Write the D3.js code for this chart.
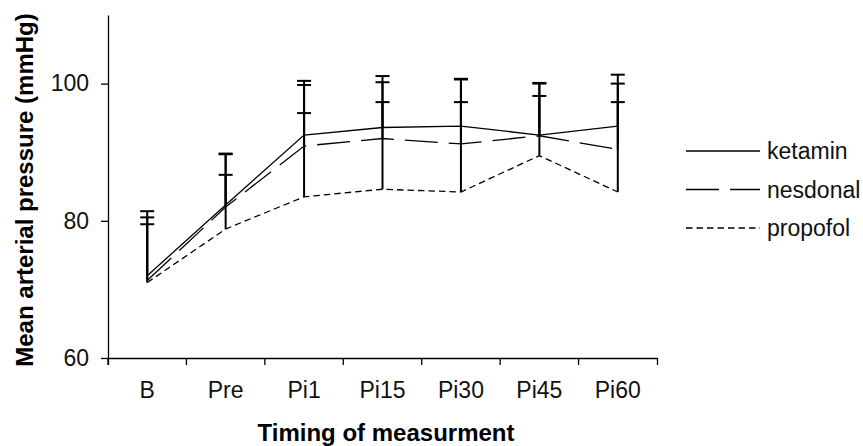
<!DOCTYPE html>
<html>
<head>
<meta charset="utf-8">
<script src="https://cdn.jsdelivr.net/npm/d3@7"></script>
<style>
  body { margin: 0; background: #fff; }
  text { font-family: "Liberation Sans", Arial, sans-serif; }
</style>
</head>
<body>
<script>
const categories = ['B', 'Pre', 'Pi1', 'Pi15', 'Pi30', 'Pi45', 'Pi60']
const yTicks = [60, 80, 100]

// means and upward SD per group
const ketaminMean = [72.0, 82.3, 92.5, 93.6, 93.8, 92.5, 93.8]
const ketaminSd = [9.4, 7.5, 7.9, 7.5, 6.9, 7.6, 7.5]
const nesdonalMean = [71.3, 82.0, 90.9, 92.0, 91.2, 92.4, 90.4]
const nesdonalSd = [9.2, 4.7, 4.8, 5.3, 6.1, 5.8, 6.9]
const propofolMean = [71.0, 78.8, 83.5, 84.6, 84.2, 89.5, 84.2]
const propofolSd = [8.5, 10.9, 16.3, 15.6, 16.4, 10.5, 15.8]

const series = [
    { name: 'ketamin', mean: ketaminMean, sd: ketaminSd, dash: null },
    { name: 'nesdonal', mean: nesdonalMean, sd: nesdonalSd, dash: '33,11' },
    { name: 'propofol', mean: propofolMean, sd: propofolSd, dash: '6.5,4' }
]

const width = 863
const height = 446
const plotLeft = 108, plotRight = 657, plotTop = 15, plotBottom = 358

const svg = d3.select('body').append('svg')
    .attr('width', width)
    .attr('height', height)

const x = d3.scaleBand().domain(categories).range([plotLeft, plotRight])
const y = d3.scaleLinear().domain([60, 110]).range([plotBottom, plotTop])
const cx = d => x(d) + x.bandwidth() / 2

// y axis
const gy = svg.append('g')
    .attr('transform', `translate(${plotLeft},0)`)
    .call(d3.axisLeft(y).tickValues(yTicks).tickSize(7).tickSizeOuter(0).tickPadding(12))
gy.selectAll('text').style('font-size', '23px').attr('fill', '#111')

// x axis, ticks at band edges
const gx = svg.append('g')
    .attr('transform', `translate(0,${plotBottom})`)
    .call(d3.axisBottom(x).tickSize(0).tickSizeOuter(7).tickPadding(24))
gx.selectAll('text').style('font-size', '23px').attr('fill', '#111')
gx.selectAll('.tick').append('line')
    .attr('x1', -x.bandwidth() / 2).attr('x2', -x.bandwidth() / 2)
    .attr('y1', 0).attr('y2', 7)

svg.selectAll('.domain, .tick line').attr('stroke', '#000').attr('stroke-width', 1.3)

// axis titles
svg.append('text')
    .attr('x', 386).attr('y', 441)
    .attr('text-anchor', 'middle')
    .style('font-size', '24px').style('font-weight', 'bold')
    .text('Timing of measurment')

svg.append('text')
    .attr('transform', 'translate(33,190) rotate(-90)')
    .attr('text-anchor', 'middle')
    .style('font-size', '24px').style('font-weight', 'bold')
    .text('Mean arterial pressure (mmHg)')

const line = d3.line()
    .x((d, i) => cx(categories[i]))
    .y(d => y(d))

series.forEach(s => {
    svg.append('path')
        .datum(s.mean)
        .attr('d', line)
        .attr('fill', 'none')
        .attr('stroke', '#000')
        .attr('stroke-width', 1.3)
        .attr('stroke-dasharray', s.dash)

    const bars = svg.append('g')
    categories.forEach((c, i) => {
        const hi = y(s.mean[i] + s.sd[i])
        bars.append('line')
            .attr('x1', cx(c)).attr('x2', cx(c))
            .attr('y1', y(s.mean[i])).attr('y2', hi)
            .attr('stroke', '#000').attr('stroke-width', 2)
        bars.append('line')
            .attr('x1', cx(c) - 7).attr('x2', cx(c) + 7)
            .attr('y1', hi).attr('y2', hi)
            .attr('stroke', '#000').attr('stroke-width', 2)
    })
})

// legend
const legend = svg.append('g')
series.forEach((s, i) => {
    const ly = 151 + i * 38.5
    legend.append('line')
        .attr('x1', 686).attr('x2', 760)
        .attr('y1', ly).attr('y2', ly)
        .attr('stroke', '#000').attr('stroke-width', 1.3)
        .attr('stroke-dasharray', s.dash)
    legend.append('text')
        .attr('x', 767).attr('y', ly + 8)
        .style('font-size', '23px')
        .attr('fill', '#111')
        .text(s.name)
})
</script>
</body>
</html>
